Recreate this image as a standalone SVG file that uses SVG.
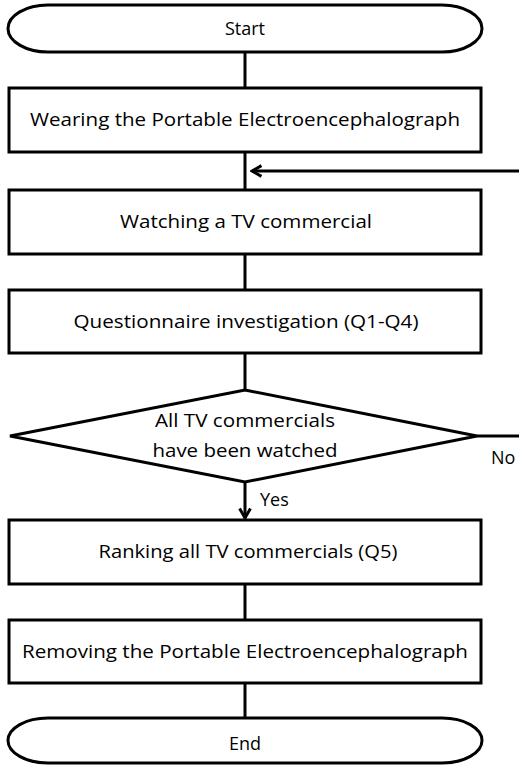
<svg xmlns="http://www.w3.org/2000/svg" width="519" height="766" viewBox="0 0 519 766">
  <style>
    .shape { fill: #ffffff; stroke: #000000; stroke-width: 3; }
    .line { fill: none; stroke: #000000; stroke-width: 3; }
    .label { font-family: "Open Sans", "Liberation Sans", Arial, sans-serif; font-size: 18px; fill: #000000; text-anchor: middle; }
    .tag { font-family: "Open Sans", "Liberation Sans", Arial, sans-serif; font-size: 18px; fill: #000000; }
  </style>
  <defs>
    <marker id="arrow" viewBox="0 0 10 10" refX="8.5" refY="5" markerWidth="4.5" markerHeight="4.5" orient="auto" markerUnits="strokeWidth">
      <path d="M1.5,1 L8.5,5 L1.5,9" fill="none" stroke="#000000" stroke-width="2.2"/>
    </marker>
  </defs>

  <g id="connectors">
    <line class="line" x1="245" y1="52" x2="245" y2="88"/>
    <line class="line" x1="245" y1="152" x2="245" y2="190"/>
    <line class="line" x1="245" y1="254" x2="245" y2="290"/>
    <line class="line" x1="245" y1="353" x2="245" y2="390"/>
    <line class="line" x1="245" y1="482" x2="245" y2="518" marker-end="url(#arrow)"/>
    <line class="line" x1="245" y1="584" x2="245" y2="620"/>
    <line class="line" x1="245" y1="683" x2="245" y2="718"/>
    <!-- loop back: "No" branch leaves to the right, returns above the watching step -->
    <line class="line" x1="477" y1="436" x2="519" y2="436"/>
    <line class="line" x1="519" y1="171" x2="252" y2="171" marker-end="url(#arrow)"/>
    <text class="tag" x="491" y="464">No</text>
    <text class="tag" x="260" y="506">Yes</text>
  </g>

  <g id="start">
    <rect class="shape" x="8" y="5" width="474" height="47" rx="40" ry="23.5"/>
    <text class="label" x="245" y="35">Start</text>
  </g>

  <g id="wear">
    <rect class="shape" x="9" y="88" width="472" height="64"/>
    <text class="label" x="245" y="126" textLength="430" lengthAdjust="spacingAndGlyphs">Wearing the Portable Electroencephalograph</text>
  </g>

  <g id="watch">
    <rect class="shape" x="9" y="190" width="472" height="64"/>
    <text class="label" x="246" y="228" textLength="252" lengthAdjust="spacingAndGlyphs">Watching a TV commercial</text>
  </g>

  <g id="questionnaire">
    <rect class="shape" x="9" y="290" width="472" height="63"/>
    <text class="label" x="246" y="328" textLength="345" lengthAdjust="spacingAndGlyphs">Questionnaire investigation (Q1-Q4)</text>
  </g>

  <g id="decision">
    <polygon class="shape" points="245,390 477,436 245,482 10,436"/>
    <text class="label" x="245" y="427" textLength="180" lengthAdjust="spacingAndGlyphs">All TV commercials</text>
    <text class="label" x="245" y="457" textLength="185" lengthAdjust="spacingAndGlyphs">have been watched</text>
  </g>

  <g id="ranking">
    <rect class="shape" x="9" y="520" width="472" height="64"/>
    <text class="label" x="248" y="558" textLength="299" lengthAdjust="spacingAndGlyphs">Ranking all TV commercials (Q5)</text>
  </g>

  <g id="remove">
    <rect class="shape" x="9" y="620" width="472" height="63"/>
    <text class="label" x="245" y="658" textLength="446" lengthAdjust="spacingAndGlyphs">Removing the Portable Electroencephalograph</text>
  </g>

  <g id="end">
    <rect class="shape" x="8" y="718" width="474" height="45" rx="40" ry="22.5"/>
    <text class="label" x="245" y="750">End</text>
  </g>
</svg>
